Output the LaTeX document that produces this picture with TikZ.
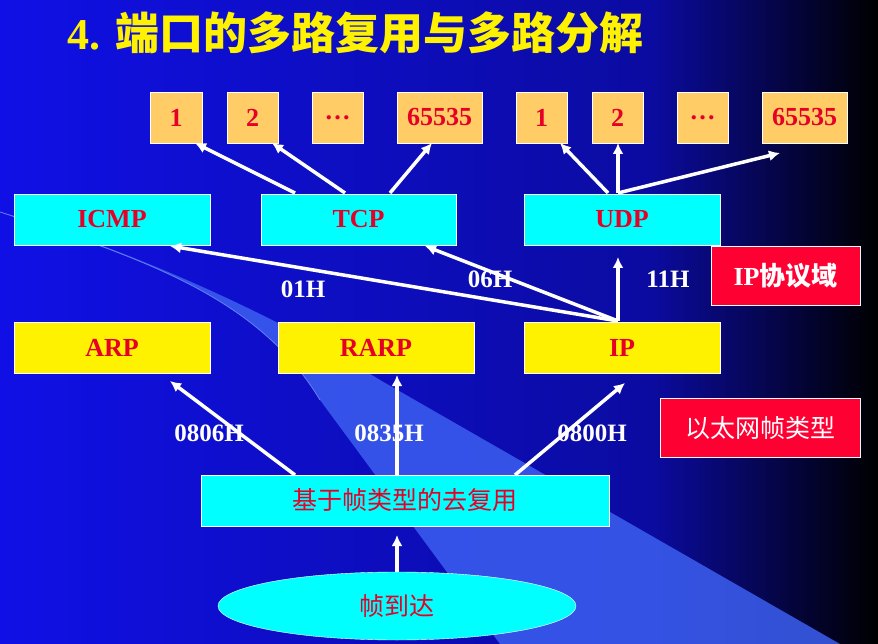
\documentclass[tikz,border=0pt]{standalone}
\usepackage{fontspec}
\setmainfont{Liberation Serif}
\newfontfamily\cjk{Noto Sans CJK SC}
\newfontfamily\cjkb{Noto Sans CJK SC Bold}
\usetikzlibrary{shapes.geometric,arrows.meta}
\definecolor{bgblue}{RGB}{16,16,230}
\definecolor{cyanb}{RGB}{0,255,255}
\definecolor{portc}{RGB}{255,204,102}
\definecolor{txtred}{RGB}{230,0,40}
\definecolor{boxred}{RGB}{255,0,51}
\definecolor{wedge}{RGB}{60,95,240}
\begin{document}
\begin{tikzpicture}[x=1pt,y=-1pt,
  box/.style={draw=white,line width=0.8pt,minimum height=51pt,inner sep=0pt,text=txtred,font=\bfseries\fontsize{26}{28}\selectfont},
  port/.style={box,fill=portc},
  proto/.style={box,fill=cyanb,minimum width=196pt},
  link/.style={box,fill=yellow,minimum width=196pt},
  tag/.style={box,fill=boxred,text=white,minimum height=59pt},
  lbl/.style={text=white,font=\bfseries\fontsize{25}{27}\selectfont},
  arr/.style={draw=white,line width=3.5pt,-{Latex[length=11pt,width=11pt]}}]
\useasboundingbox (0,0) rectangle (878,644);
\shade[left color=bgblue,right color=bgblue!70!black] (0,0) rectangle (650,644);
\shade[left color=bgblue!70!black,right color=black] (650,0) rectangle (878,644);
\fill[wedge,opacity=0.85] (0,212) .. controls (150,260) and (260,300) .. (320,400) -- (500,644) -- (840,644) -- (380,380) .. controls (250,300) and (100,240) .. (0,212) -- cycle;
\draw[wedge!80!white,line width=0.8pt] (0,212) .. controls (150,260) and (260,300) .. (320,400);
\node[text=yellow,anchor=west,font=\bfseries\fontsize{44}{48}\selectfont] (title) at (64,33) {4. {\cjkb 端口的多路复用与多路分解}};
% ports
\node[port,minimum width=52pt] (p1) at (176,117.5) {1};
\node[port,minimum width=51pt] (p2) at (252.5,117.5) {2};
\node[port,minimum width=51pt] (p3) at (337.5,117.5) {\dots};
\node[port,minimum width=85pt] (p4) at (439.5,117.5) {65535};
\node[port,minimum width=51pt] (q1) at (541.5,117.5) {1};
\node[port,minimum width=51pt] (q2) at (617.5,117.5) {2};
\node[port,minimum width=51pt] (q3) at (702.5,117.5) {\dots};
\node[port,minimum width=85pt] (q4) at (804.5,117.5) {65535};
% protocols
\node[proto] (icmp) at (112,219.5) {ICMP};
\node[proto,minimum width=195pt] (tcp) at (358.5,219.5) {TCP};
\node[proto] (udp) at (622,219.5) {UDP};
\node[link] (arp) at (112,347.5) {ARP};
\node[link] (rarp) at (376,347.5) {RARP};
\node[link] (ip) at (622,347.5) {IP};
\node[tag,minimum width=149pt] (ipd) at (785.5,275.5) {IP{\cjkb 协议域}};
\node[tag,minimum width=200pt,font=\fontsize{25}{27}\selectfont] (eth) at (760,428) {\cjk 以太网帧类型};
\node[box,fill=cyanb,minimum width=408pt,font=\fontsize{25}{27}\selectfont] (demux) at (405,500.5) {\cjk 基于帧类型的去复用};
\node[ellipse,draw=white,fill=cyanb,minimum width=358pt,minimum height=68pt,inner sep=0pt,text=txtred,font=\cjk\fontsize{25}{27}\selectfont] (frame) at (397,606) {帧到达};
% coordinates
\coordinate (t1) at (295,193); \coordinate (t2) at (345,193); \coordinate (t3) at (390,193);
\coordinate (u1) at (608,193); \coordinate (u2) at (618,193);
\coordinate (i0) at (618,321);
\coordinate (d1) at (295,475); \coordinate (d2) at (397,475); \coordinate (d3) at (515,475);
\coordinate (icmpE) at (170,246); \coordinate (tcpE) at (425,246); \coordinate (udpE) at (618,257);
\coordinate (arpE) at (170,381); \coordinate (rarpE) at (397,375); \coordinate (ipE) at (625,383);
\coordinate (f0) at (397,572); \coordinate (demE) at (397,535);
\coordinate (p1E) at (195,143); \coordinate (p2E) at (272,143); \coordinate (p4E) at (432,143);
\coordinate (q1E) at (560,143); \coordinate (q2E) at (618,143); \coordinate (q4E) at (780,153);
\draw[arr] (t1) -- (p1E);
\draw[arr] (t2) -- (p2E);
\draw[arr] (t3) -- (p4E);
\draw[arr] (u1) -- (q1E);
\draw[arr] (u2) -- (q2E);
\draw[arr] (u2) -- (q4E);
\draw[arr] (i0) -- (icmpE);
\draw[arr] (i0) -- (tcpE);
\draw[arr] (i0) -- (udpE);
\draw[arr] (d1) -- (arpE);
\draw[arr] (d2) -- (rarpE);
\draw[arr] (d3) -- (ipE);
\draw[arr] (f0) -- (demE);
\node[lbl] (l1) at (303,289) {01H};
\node[lbl] (l2) at (490,279) {06H};
\node[lbl] (l3) at (668,279) {11H};
\node[lbl] (l4) at (209,433) {0806H};
\node[lbl] (l5) at (389,433) {0835H};
\node[lbl] (l6) at (592,433) {0800H};
\end{tikzpicture}
\end{document}
